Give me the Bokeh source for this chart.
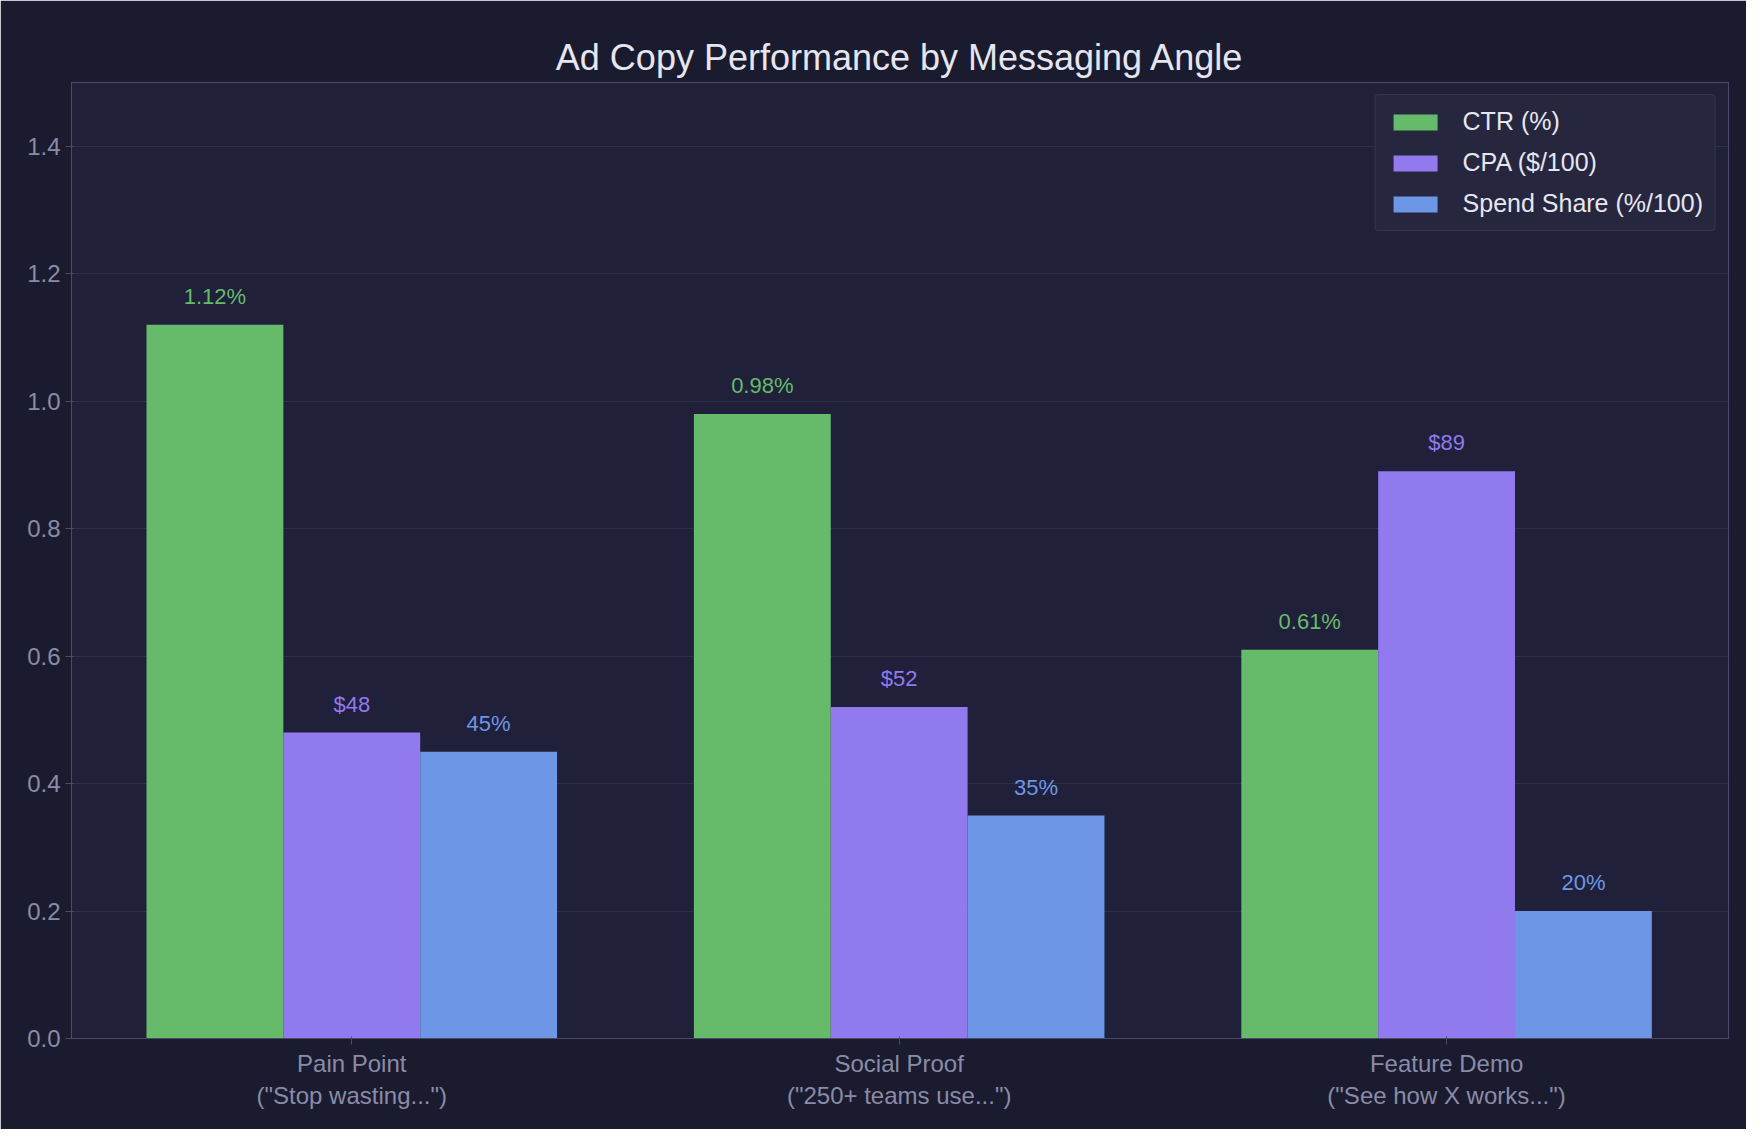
from bokeh.plotting import figure
from bokeh.models import Range1d, FixedTicker, ColumnDataSource, CustomJSTickFormatter
from bokeh.embed import file_html
from bokeh.resources import INLINE

categories = ['Pain Point\n("Stop wasting...")', 'Social Proof\n("250+ teams use...")', 'Feature Demo\n("See how X works...")']
ctr = [1.12, 0.98, 0.61]
cpa = [0.48, 0.52, 0.89]
spend = [0.45, 0.35, 0.20]
ctr_lbl = ["1.12%", "0.98%", "0.61%"]
cpa_lbl = ["$48", "$52", "$89"]
spend_lbl = ["45%", "35%", "20%"]

FONT = "Liberation Sans"
p = figure(width=1746, height=1129, output_backend="svg", toolbar_location=None,
           x_range=Range1d(-0.512, 2.515), y_range=Range1d(0, 1.5),
           title="Ad Copy Performance by Messaging Angle",
           min_border_left=71, min_border_right=18, min_border_top=82, min_border_bottom=91)
p.background_fill_color = "#20203a"
p.border_fill_color = "#1a1b2e"
p.outline_line_color = "#4a4b66"
p.title.text_color = "#e6e6f0"
p.title.text_font = FONT
p.title.text_font_size = "36px"
p.title.text_font_style = "normal"
p.title.align = "center"

xs = list(range(len(categories)))
series = [(ctr, ctr_lbl, "#66bb6a", "CTR (%)", -0.25),
          (cpa, cpa_lbl, "#9179ee", "CPA ($/100)", 0.0),
          (spend, spend_lbl, "#6d96e6", "Spend Share (%/100)", 0.25)]
for vals, lbls, col, name, off in series:
    src = ColumnDataSource(dict(x=[x + off for x in xs], top=vals, lbl=lbls, ly=[v + 0.025 for v in vals]))
    p.vbar(x="x", top="top", width=0.25, source=src, fill_color=col, line_color=None, legend_label=name)
    p.text(x="x", y="ly", text="lbl", source=src, text_color=col, text_align="center",
           text_baseline="bottom", text_font_size="22px", text_font={"value": FONT})

p.xaxis.ticker = FixedTicker(ticks=xs)
p.xaxis.major_label_overrides = {i: c for i, c in enumerate(categories)}
p.yaxis.ticker = FixedTicker(ticks=[0, 0.2, 0.4, 0.6, 0.8, 1.0, 1.2, 1.4])
p.yaxis.formatter = CustomJSTickFormatter(code="return tick.toFixed(1);")
for ax in (p.xaxis, p.yaxis):
    ax.major_label_text_color = "#8a8ba8"
    ax.major_label_text_font = FONT
    ax.major_label_text_font_size = "24px"
    ax.axis_line_color = "#4a4b66"
    ax.major_tick_line_color = "#4a4b66"
    ax.minor_tick_line_color = None
p.xgrid.grid_line_color = None
p.ygrid.grid_line_color = "#2e2f48"
p.legend.location = "top_right"
p.legend.margin = 12
p.legend.padding = 12
p.legend.spacing = 12
p.legend.background_fill_color = "#26273f"
p.legend.background_fill_alpha = 1
p.legend.border_line_color = "#444560"
p.legend.label_text_color = "#e6e6f0"
p.legend.label_text_font = FONT
p.legend.label_text_font_size = "25px"
p.legend.label_standoff = 20
p.legend.glyph_width = 55
p.legend.glyph_height = 20
p.legend.border_radius = 4

open("out.html", "w").write(file_html(p, INLINE))
